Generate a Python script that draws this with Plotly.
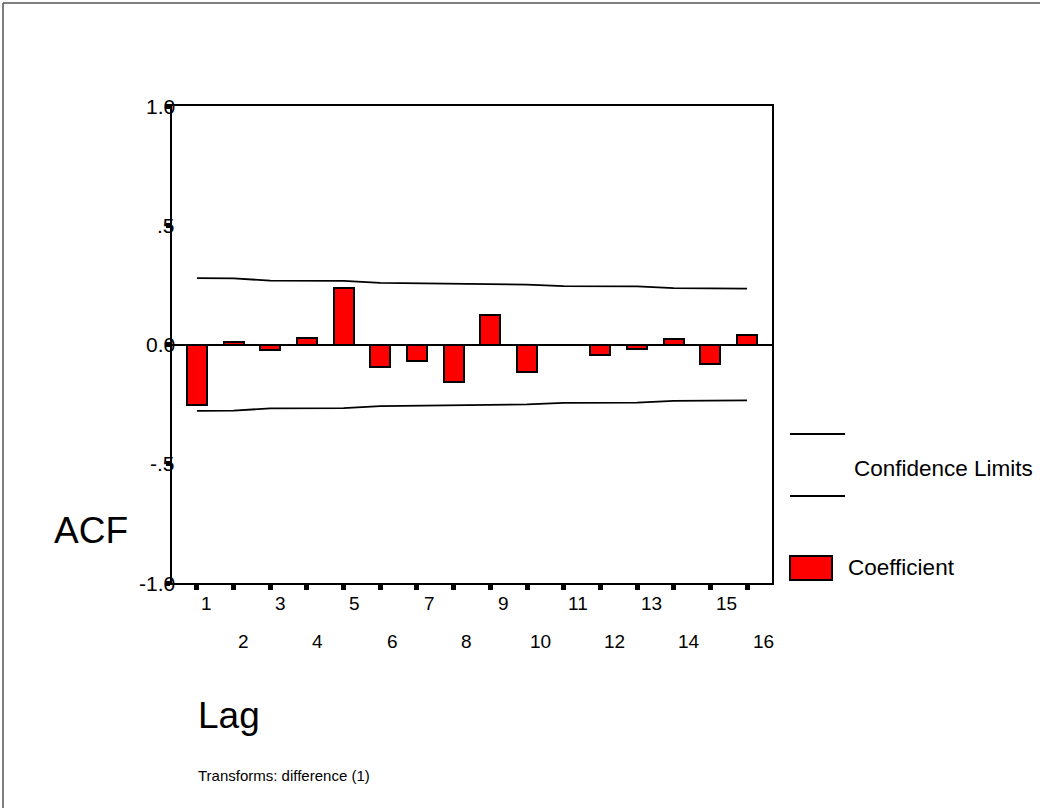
import plotly.graph_objects as go

# ---- data ----
lags = list(range(1, 17))
acf = [-0.255, 0.011, -0.025, 0.028, 0.239, -0.095, -0.070, -0.158,
       0.124, -0.116, -0.002, -0.043, -0.017, 0.021, -0.080, 0.038]
conf_limit = [0.278, 0.277, 0.268, 0.267, 0.267, 0.258, 0.257, 0.256,
              0.252, 0.251, 0.245, 0.245, 0.244, 0.236, 0.235, 0.234]
y_tick_vals = [1.0, 0.5, 0.0, -0.5, -1.0]
y_tick_text = ["1.0", ".5", "0.0", "-.5", "-1.0"]
x_tick_text = [str(v) for v in lags]

W, H = 1040, 808
FONT = "Liberation Sans, Arial, sans-serif"

def px_x(p):
    return p / W

def px_y(p):
    return 1 - p / H

fig = go.Figure()

fig.add_trace(go.Bar(
    x=lags, y=acf, width=0.55,
    marker=dict(color="#ff0000", line=dict(color="black", width=2)),
    showlegend=False, hoverinfo="x+y",
))
fig.add_trace(go.Scatter(
    x=lags, y=conf_limit, mode="lines",
    line=dict(color="black", width=1.8), showlegend=False,
))
fig.add_trace(go.Scatter(
    x=lags, y=[-v for v in conf_limit], mode="lines",
    line=dict(color="black", width=1.8), showlegend=False,
))

annotations = []
# y tick labels
for v, t in zip(y_tick_vals, y_tick_text):
    annotations.append(dict(
        x=px_x(177), xref="paper", y=v, yref="y", text=t, showarrow=False,
        xanchor="right", yanchor="middle",
        font=dict(family=FONT, size=21, color="black"),
    ))
# x tick labels in two rows
for lag, t in zip(lags, x_tick_text):
    row_y = 603 if lag % 2 == 1 else 641
    annotations.append(dict(
        x=lag, xref="x", y=px_y(row_y), yref="paper", text=t, showarrow=False,
        xanchor="center", yanchor="middle", xshift=9 + 0.45 * lag,
        font=dict(family=FONT, size=19, color="black"),
    ))

annotations += [
    dict(x=px_x(91), y=px_y(530), xref="paper", yref="paper", text="ACF",
         showarrow=False, xanchor="center", yanchor="middle",
         font=dict(family=FONT, size=37, color="black")),
    dict(x=px_x(196), y=px_y(715), xref="paper", yref="paper", text="Lag",
         showarrow=False, xanchor="left", yanchor="middle",
         font=dict(family=FONT, size=37, color="black")),
    dict(x=px_x(196), y=px_y(775), xref="paper", yref="paper",
         text="Transforms: difference (1)",
         showarrow=False, xanchor="left", yanchor="middle",
         font=dict(family=FONT, size=15, color="black")),
    dict(x=px_x(852), y=px_y(469), xref="paper", yref="paper",
         text="Confidence Limits",
         showarrow=False, xanchor="left", yanchor="middle",
         font=dict(family=FONT, size=22.5, color="black")),
    dict(x=px_x(846), y=px_y(567), xref="paper", yref="paper",
         text="Coefficient",
         showarrow=False, xanchor="left", yanchor="middle",
         font=dict(family=FONT, size=22.5, color="black")),
]

shapes = [
    # outer frame (top and left edges visible)
    dict(type="line", xref="paper", yref="paper",
         x0=px_x(3), x1=1.01, y0=px_y(3), y1=px_y(3),
         line=dict(color="#555555", width=1.5)),
    dict(type="line", xref="paper", yref="paper",
         x0=px_x(3), x1=px_x(3), y0=px_y(3), y1=-0.01,
         line=dict(color="#555555", width=1.5)),
    # legend: confidence limits
    dict(type="line", xref="paper", yref="paper",
         x0=px_x(790), x1=px_x(845), y0=px_y(434), y1=px_y(434),
         line=dict(color="black", width=1.8)),
    dict(type="line", xref="paper", yref="paper",
         x0=px_x(790), x1=px_x(845), y0=px_y(496), y1=px_y(496),
         line=dict(color="black", width=1.8)),
    # legend: coefficient swatch
    dict(type="rect", xref="paper", yref="paper",
         x0=px_x(790), x1=px_x(832), y0=px_y(580), y1=px_y(556),
         fillcolor="#ff0000", line=dict(color="black", width=2)),
]

fig.update_layout(
    width=W, height=H,
    margin=dict(l=0, r=0, t=0, b=0),
    paper_bgcolor="white", plot_bgcolor="white",
    showlegend=False,
    font=dict(family=FONT, color="black"),
    annotations=annotations, shapes=shapes,
    bargap=0,
)
fig.update_xaxes(
    domain=[px_x(172), px_x(772)], range=[0.32, 16.68],
    showgrid=False, zeroline=False,
    showline=True, mirror=True, linecolor="black", linewidth=2,
    ticks="outside", ticklen=5, tickwidth=5, tickcolor="black",
    tickvals=lags, showticklabels=False, fixedrange=True,
)
fig.update_yaxes(
    domain=[px_y(583), px_y(106)], range=[-1, 1],
    showgrid=False, zeroline=True, zerolinecolor="black", zerolinewidth=2,
    showline=True, mirror=True, linecolor="black", linewidth=2,
    ticks="outside", ticklen=4, tickwidth=5, tickcolor="black",
    tickvals=y_tick_vals, showticklabels=False, fixedrange=True,
)

fig.write_html(
    "out.html",
    config={"displayModeBar": False},
    post_script="document.body.style.margin='0';document.body.style.overflow='hidden';",
)
